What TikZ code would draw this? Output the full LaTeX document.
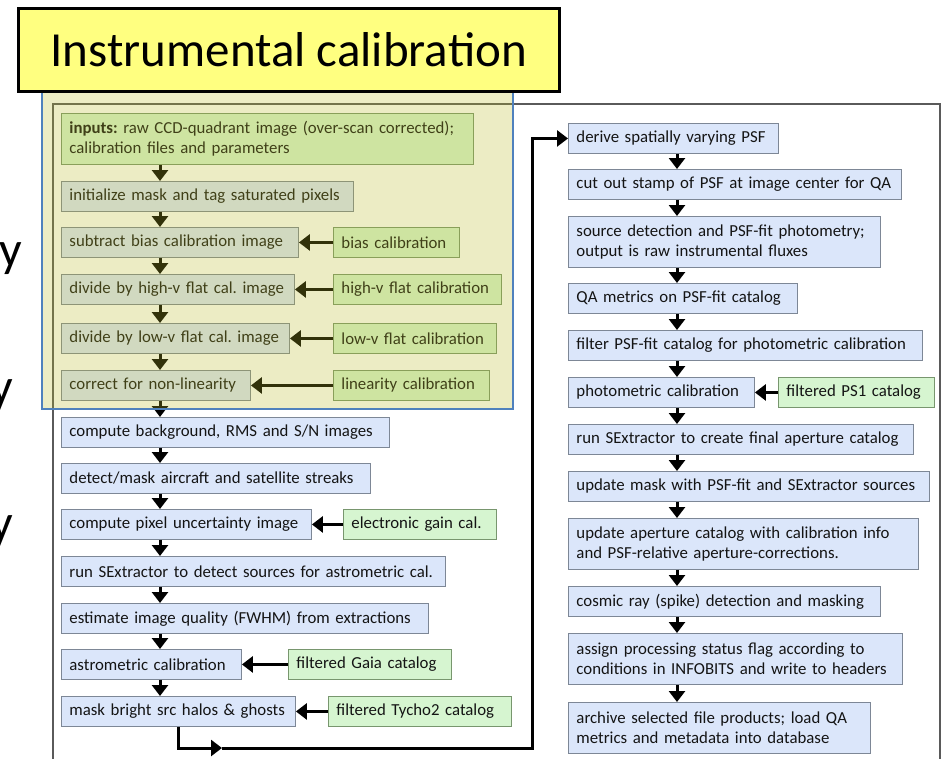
\documentclass[tikz,border=0pt]{standalone}
\usepackage{fontspec}
\setmainfont{Carlito}
\usetikzlibrary{arrows.meta}
\definecolor{bluefill}{RGB}{219,230,250}
\definecolor{bluedraw}{RGB}{125,135,150}
\definecolor{greenfill}{RGB}{214,245,208}
\definecolor{greendraw}{RGB}{120,150,110}
\definecolor{titlefill}{RGB}{255,255,128}
\definecolor{overlaycol}{RGB}{185,185,37}
\definecolor{overlayborder}{RGB}{79,129,189}
\definecolor{framecol}{RGB}{90,90,90}
\definecolor{txt}{RGB}{20,20,20}
\frenchspacing
\begin{document}
\begin{tikzpicture}[x=1pt,y=-1pt,
  every node/.style={font=\fontsize{16.8}{20}\selectfont, text=txt},
  bstep/.style={draw=bluedraw, fill=bluefill, line width=0.9pt, inner xsep=8pt, inner ysep=0pt, minimum height=30pt, align=left, anchor=north west},
  gstep/.style={bstep, draw=greendraw, fill=greenfill},
  arr/.style={-{Triangle[width=16pt,length=11pt]}, line width=3pt, draw=black}
]
\useasboundingbox (0,0) rectangle (948,758);
% outer frame
\draw[framecol, line width=1.3pt] (53,775) -- (53,104) -- (940,104) -- (940,775);

% left column
\node[gstep, text width=396pt, minimum height=51pt] (in) at (61,113) {\textbf{inputs:} raw CCD-quadrant image (over-scan corrected);\\calibration files and parameters};
\node[bstep, text width=276pt] (init) at (61,181) {initialize mask and tag saturated pixels};
\node[bstep, text width=221pt] (sub) at (61,227) {subtract bias calibration image};
\node[gstep, text width=110pt] (bias) at (333,227) {bias calibration};
\node[bstep, text width=217pt] (hi) at (61,274) {divide by high-v flat cal. image};
\node[gstep, text width=152pt] (hic) at (333,274) {high-v flat calibration};
\node[bstep, text width=212pt] (lo) at (61,323) {divide by low-v flat cal. image};
\node[gstep, text width=147pt] (loc) at (333,323) {low-v flat calibration};
\node[bstep, text width=173pt] (nl) at (61,370) {correct for non-linearity};
\node[gstep, text width=140pt] (linc) at (333,370) {linearity calibration};
\node[bstep, text width=312pt] (bg) at (61,417) {compute background, RMS and S/N images};
\node[bstep, text width=293pt] (det) at (61,463) {detect/mask aircraft and satellite streaks};
\node[bstep, text width=234pt] (unc) at (61,509) {compute pixel uncertainty image};
\node[gstep, text width=137pt] (gain) at (343,509) {electronic gain cal.};
\node[bstep, text width=368pt] (sex) at (61,556) {run SExtractor to detect sources for astrometric cal.};
\node[bstep, text width=351pt] (est) at (61,603) {estimate image quality (FWHM) from extractions};
\node[bstep, text width=164pt] (ast) at (61,649) {astrometric calibration};
\node[gstep, text width=147pt] (gaia) at (288,649) {filtered Gaia catalog};
\node[bstep, text width=218pt] (msk) at (61,696) {mask bright src halos \& ghosts};
\node[gstep, text width=167pt] (tyc) at (328,696) {filtered Tycho2 catalog};

% right column
\node[bstep, text width=194pt] (der) at (568,123) {derive spatially varying PSF};
\node[bstep, text width=317pt] (cut) at (568,169) {cut out stamp of PSF at image center for QA};
\node[bstep, text width=296pt, minimum height=51pt] (src) at (568,216) {source detection and PSF-fit photometry;\\output is raw instrumental fluxes};
\node[bstep, text width=213pt] (qa) at (568,283) {QA metrics on PSF-fit catalog};
\node[bstep, text width=338pt] (flt) at (568,330) {filter PSF-fit catalog for photometric calibration};
\node[bstep, text width=170pt] (phot) at (568,377) {photometric calibration};
\node[gstep, text width=140pt] (ps1) at (778,377) {filtered PS1 catalog};
\node[bstep, text width=329pt] (fin) at (568,424) {run SExtractor to create final aperture catalog};
\node[bstep, text width=345pt] (upm) at (568,471) {update mask with PSF-fit and SExtractor sources};
\node[bstep, text width=334pt, minimum height=51pt] (upa) at (568,518) {update aperture catalog with calibration info\\and PSF-relative aperture-corrections.};
\node[bstep, text width=296pt] (cos) at (568,586) {cosmic ray (spike) detection and masking};
\node[bstep, text width=318pt, minimum height=51pt] (asg) at (568,633) {assign processing status flag according to\\conditions in INFOBITS and write to headers};
\node[bstep, text width=286pt, minimum height=51pt] (arc) at (568,702) {archive selected file products; load QA\\metrics and metadata into database};

% vertical arrows
\coordinate (LX) at (160,0);
\coordinate (RX) at (677,0);
\foreach \a/\b in {in/init,init/sub,sub/hi,hi/lo,lo/nl,nl/bg,bg/det,det/unc,unc/sex,sex/est,est/ast,ast/msk}
  \draw[arr] (\a.south -| LX) -- (\b.north -| LX);
\foreach \a/\b in {der/cut,cut/src,src/qa,qa/flt,flt/phot,phot/fin,fin/upm,upm/upa,upa/cos,cos/asg,asg/arc}
  \draw[arr] (\a.south -| RX) -- (\b.north -| RX);

% horizontal arrows
\foreach \a/\b in {bias/sub,hic/hi,loc/lo,linc/nl,gain/unc,gaia/ast,tyc/msk,ps1/phot}
  \draw[arr] (\a.west) -- (\b.east);

% loop connector
\coordinate (L1) at (178,748);
\coordinate (L2) at (222,748);
\coordinate (L3) at (532,748);
\draw[arr] (msk.south -| L1) -- (L1) -- (L2);
\draw[arr] (L2) -- (L3) |- (der.west);

% translucent overlay
\fill[overlaycol, opacity=0.27] (42,80) rectangle (513,409);
\draw[overlayborder, line width=2pt] (42,80) rectangle (513,409);

% title
\node[draw=black, line width=2.5pt, fill=titlefill, minimum width=541pt, minimum height=83pt, inner sep=0pt, anchor=north west, font=\fontsize{49}{50}\selectfont, text=black] (title) at (17,7) {Instrumental calibration};

% cut-off letters at left edge
\node[anchor=base east, inner sep=0pt, font=\fontsize{50}{50}\selectfont, text=black] (y1) at (22,266) {y};
\node[anchor=base east, inner sep=0pt, font=\fontsize{50}{50}\selectfont, text=black] (y2) at (13,403) {y};
\node[anchor=base east, inner sep=0pt, font=\fontsize{50}{50}\selectfont, text=black] (y3) at (13,539) {y};
\end{tikzpicture}
\end{document}
